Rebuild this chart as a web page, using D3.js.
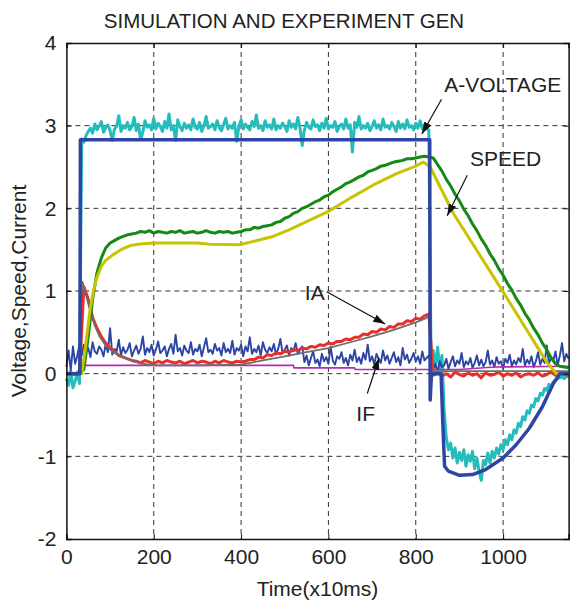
<!DOCTYPE html>
<html>
<head>
<meta charset="utf-8">
<script src="https://cdn.jsdelivr.net/npm/d3@7"></script>
<style>
  body { margin: 0; background: #fff; }
  svg text { font-family: "Liberation Sans", Arial, sans-serif; fill: #222; }
</style>
</head>
<body>
<div id="chart"></div>
<script>
// ---- data ----
var xTicks = [0, 200, 400, 600, 800, 1000];
var yTicks = [-2, -1, 0, 1, 2, 3, 4];

// measured signals are sampled on a fixed time grid
var stepFine = 5;    // x10ms, for armature voltage and field current
var stepCoarse = 10; // x10ms, for armature current and speed

// measured armature voltage (cyan), t = 0..1150 step 5
var voltMeas = [
  -0.06, -0.14, 0.03, -0.17, -0.09, 0.02, -0.12,
  2.84,
  2.80, 2.88, 2.93, 2.97, 2.91, 3.02, 2.95, 2.99, 3.05, 2.92,
  2.98, 3.01, 2.94, 2.82, 2.96, 2.99, 3.12, 2.93, 3.00, 2.97,
  3.04, 2.95, 2.99, 3.10, 2.94, 3.02, 2.83, 2.92, 3.06, 2.98,
  3.01, 2.95, 3.09, 2.96, 3.03, 2.99, 2.93, 3.05, 2.97, 3.14,
  2.95, 3.00, 2.82, 3.07, 2.99, 2.94, 3.03, 2.97, 3.01, 2.95,
  3.08, 2.98, 2.96, 3.04, 2.93, 3.00, 3.11, 2.97, 2.99, 3.02,
  2.95, 3.06, 2.98, 2.94, 3.01, 3.09, 2.96, 3.00, 2.97, 3.04,
  2.81, 2.99, 3.07, 2.96, 3.02, 2.98, 2.95, 3.05, 2.99, 3.13,
  2.97, 3.00, 2.94, 3.06, 2.98, 3.01, 2.96, 3.08, 2.95, 3.00,
  2.97, 3.03, 2.99, 2.93, 3.06, 2.98, 3.02, 2.96, 3.10, 2.97,
  2.76, 2.95, 3.04, 2.98, 2.96, 3.07, 2.99, 3.01, 2.94, 3.03,
  2.97, 3.09, 2.96, 3.00, 2.98, 3.05, 2.93, 2.99, 3.02, 2.96,
  3.08, 2.97, 3.01, 2.68, 3.04, 2.98, 3.11, 2.96, 3.00, 2.97,
  3.03, 2.94, 2.99, 3.06, 2.97, 3.01, 2.95, 3.08, 2.98, 3.00,
  2.96, 3.04, 2.99, 2.93, 3.05, 2.97, 3.02, 2.96, 3.07, 2.98,
  3.00, 2.95, 3.03, 2.97, 3.06, 2.96, 3.01, 2.98, 2.94,
  0.18, 0.28, 0.08, 0.32, 0.06, 0.22,
  -0.45, -0.78, -0.92, -0.84, -1.02, -0.90, -1.08, -0.95, -1.05, -0.92,
  -1.12, -0.98, -1.06, -0.94, -1.15, -1.02, -1.18, -1.29, -1.05, -1.10,
  -0.96, -1.08, -0.94, -1.02, -0.90, -0.97, -0.86, -0.92, -0.80, -0.86,
  -0.74, -0.80, -0.68, -0.72, -0.60, -0.64, -0.52, -0.56, -0.45, -0.48,
  -0.38, -0.40, -0.30, -0.33, -0.24, -0.26, -0.18, -0.20, -0.13, -0.15,
  -0.10, -0.08, -0.06, -0.05, -0.04, -0.06, -0.03, -0.04
];

// measured field current (thin blue), t = 0..1150 step 5
var ifMeas = [
  0.08, 0.28, 0.04, 0.33, 0.12, 0.22, 0.36,
  0.22, 0.35, 0.26, 0.31, 0.20, 0.38, 0.27, 0.24, 0.33, 0.29,
  0.21, 0.36, 0.26, 0.55, 0.23, 0.30, 0.27, 0.41, 0.22, 0.32,
  0.25, 0.29, 0.37, 0.21, 0.28, 0.34, 0.24, 0.30, 0.45, 0.23,
  0.31, 0.26, 0.35, 0.22, 0.29, 0.39, 0.25, 0.28, 0.33, 0.21,
  0.30, 0.36, 0.24, 0.47, 0.27, 0.31, 0.22, 0.34, 0.28, 0.25,
  0.38, 0.23, 0.30, 0.27, 0.35, 0.21, 0.32, 0.43, 0.26, 0.29,
  0.24, 0.36, 0.28, 0.31, 0.22, 0.37, 0.26, 0.30, 0.25, 0.40,
  0.23, 0.31, 0.28, 0.35, 0.21, 0.33, 0.27, 0.44, 0.24, 0.30,
  0.26, 0.34, 0.22, 0.38, 0.29, 0.25, 0.32, 0.27, 0.36, 0.23,
  0.30, 0.42, 0.25, 0.29, 0.34, 0.22, 0.31, 0.27, 0.37, 0.24,
  0.29, 0.33,
  0.14, 0.22, 0.10, 0.19, 0.27, 0.13, 0.17, 0.09, 0.24, 0.15,
  0.20, 0.12, 0.33, 0.16, 0.11, 0.21, 0.18, 0.26, 0.13, 0.19,
  0.10, 0.23, 0.16, 0.29, 0.14, 0.20, 0.12, 0.25, 0.17, 0.35,
  0.15, 0.21, 0.11, 0.24, 0.18, 0.13, 0.28, 0.16, 0.22, 0.12,
  0.19, 0.26, 0.14, 0.20, 0.10, 0.31, 0.17, 0.23, 0.13, 0.18,
  0.25, 0.15, 0.21, 0.12, 0.27, 0.16, 0.19, 0.22,
  0.10, 0.05, 0.12, 0.02, 0.15, 0.08,
  0.10, 0.18, 0.06, 0.14, 0.21, 0.09, 0.16, 0.12, 0.25, 0.08,
  0.15, 0.11, 0.19, 0.07, 0.13, 0.22, 0.10, 0.17, 0.09, 0.14,
  0.28, 0.11, 0.16, 0.08, 0.20, 0.12, 0.15, 0.06, 0.18, 0.13,
  0.23, 0.09, 0.16, 0.11, 0.19, 0.14, 0.30, 0.10, 0.17, 0.12,
  0.21, 0.08, 0.15, 0.26, 0.11, 0.18, 0.13, 0.34, 0.12, 0.20,
  0.16, 0.27, 0.10, 0.22, 0.37, 0.15, 0.24, 0.18
];

// measured armature current (red), t = 0..1150 step 10
var iaMeas = [
  0.00, 0.01, -0.01, 0.00,
  1.05, 0.90, 0.68, 0.55, 0.45, 0.37, 0.31, 0.27, 0.22, 0.20, 0.18, 0.16,
  0.15, 0.13, 0.16, 0.14, 0.12, 0.15, 0.13, 0.16, 0.14, 0.13,
  0.15, 0.12, 0.14, 0.16, 0.13, 0.15, 0.14, 0.12, 0.15, 0.13,
  0.16, 0.14, 0.13, 0.15, 0.14,
  0.15, 0.17, 0.17, 0.20, 0.19, 0.23, 0.22, 0.25, 0.24, 0.27,
  0.26, 0.29, 0.28, 0.31, 0.30, 0.33, 0.32, 0.35, 0.34, 0.37,
  0.36, 0.39, 0.39, 0.42, 0.41, 0.44, 0.44, 0.48, 0.47, 0.51,
  0.50, 0.54, 0.53, 0.57, 0.56, 0.60, 0.60, 0.64, 0.63, 0.67,
  0.66, 0.70, 0.72,
  -0.02, 0.01, -0.03, 0.00, -0.04, 0.02, -0.01, -0.03, 0.01, -0.02,
  0.00, -0.05, 0.01, -0.02, -0.01, 0.02, -0.03, 0.00, -0.02, 0.01,
  -0.04, -0.01, 0.00, -0.02, 0.01, -0.03, -0.01, 0.02, -0.02, 0.00,
  -0.01, -0.02
];

// measured speed (green), t = 0..1150 step 10
var speedMeas = [
  0.00, 0.00, 0.00, 0.01,
  0.05, 0.45, 0.90, 1.22, 1.40, 1.52, 1.58, 1.61, 1.64, 1.66, 1.68, 1.69,
  1.70, 1.72, 1.71, 1.73, 1.70, 1.72, 1.71, 1.70, 1.72, 1.71,
  1.73, 1.70, 1.71, 1.72, 1.70, 1.71, 1.73, 1.71, 1.70, 1.72,
  1.71, 1.72, 1.70, 1.71,
  1.72, 1.74, 1.74, 1.77, 1.76, 1.78, 1.79, 1.80, 1.83, 1.84,
  1.88, 1.90, 1.94, 1.96, 2.00, 2.02, 2.05, 2.08, 2.10, 2.14,
  2.16, 2.20, 2.23, 2.26, 2.30, 2.32, 2.35, 2.38, 2.40, 2.44,
  2.46, 2.48, 2.51, 2.52, 2.54, 2.56, 2.57, 2.58, 2.60, 2.60,
  2.61, 2.62, 2.63, 2.62,
  2.61, 2.53, 2.45, 2.35, 2.27, 2.17, 2.09, 1.99, 1.91, 1.81,
  1.73, 1.63, 1.55, 1.45, 1.37, 1.27, 1.19, 1.09, 1.01, 0.91,
  0.83, 0.73, 0.65, 0.55, 0.47, 0.37, 0.29, 0.19, 0.12, 0.09,
  0.08, 0.07
];

// simulated armature voltage (dark blue) as [time, value]
var voltSim = [
  [0, 0], [31, 0], [32, 2.83], [832, 2.83], [833, -0.32], [836, 0.0],
  [858, 0.0], [862, -0.6], [866, -1.12], [875, -1.18], [900, -1.23],
  [930, -1.22], [960, -1.16], [1000, -1.02], [1030, -0.86], [1060, -0.66],
  [1090, -0.40], [1115, -0.12], [1130, 0], [1150, 0]
];

// simulated speed (yellow)
var speedSim = [
  [0, 0], [35, 0], [42, 0.25], [54, 0.77], [62, 1.0], [69, 1.15], [80, 1.3],
  [90, 1.37], [107, 1.44], [125, 1.5], [146, 1.55], [170, 1.57], [198, 1.58],
  [300, 1.58], [329, 1.565], [397, 1.56], [443, 1.62], [473, 1.66],
  [510, 1.74], [550, 1.84], [599, 1.96], [649, 2.12], [702, 2.28],
  [756, 2.42], [800, 2.51], [817, 2.56], [833, 2.5], [886, 1.94],
  [1000, 0.99], [1100, 0.14], [1122, 0.0], [1150, 0.0]
];

// simulated armature current (gray)
var iaSim = [
  [0, 0], [31, 0], [33, 0.9], [37, 1.11], [45, 0.95], [54, 0.77], [65, 0.58],
  [77, 0.44], [90, 0.34], [107, 0.26], [130, 0.2], [153, 0.15], [175, 0.12],
  [200, 0.1], [300, 0.1], [400, 0.11], [450, 0.16], [500, 0.21], [550, 0.26],
  [600, 0.31], [650, 0.38], [700, 0.45], [750, 0.53], [800, 0.62], [832, 0.69],
  [833, 0.03], [1150, 0.03]
];

// simulated field current (magenta)
var ifSim = [
  [0, 0], [34, 0], [35, 0.1], [520, 0.1], [521, 0.07], [660, 0.07],
  [661, 0.05], [833, 0.05], [900, 0.05], [980, 0.08], [1150, 0.09]
];

// annotations: label, text anchor point, arrow tail, arrow tip (data units)
var labels = [
  { text: "A-VOLTAGE", at: [865, 3.41], from: [859, 3.32], to: [814, 2.90] },
  { text: "SPEED",     at: [924, 2.51], from: [918, 2.40], to: [872, 1.91] },
  { text: "IA",        at: [546, 0.89], from: [596, 0.99], to: [730, 0.60] },
  { text: "IF",        at: [664, -0.57], from: [689, -0.24], to: [716, 0.19] }
];

// ---- layout ----
var width = 582, height = 606;
var plotLeft = 66.4, plotRight = 568.6, plotTop = 43, plotBottom = 539;

var svg = d3.select("#chart").append("svg")
  .attr("width", width)
  .attr("height", height);

var x = d3.scaleLinear().domain([0, 1150]).range([plotLeft, plotRight]);
var y = d3.scaleLinear().domain([-2, 4]).range([plotBottom, plotTop]);

// turn a regularly sampled array into [t, v] pairs
function sampled(values, step) {
  return values.map(function (v, i) { return [i * step, v]; });
}

var line = d3.line()
  .x(function (d) { return x(d[0]); })
  .y(function (d) { return y(d[1]); });

// grid (dashed)
var grid = svg.append("g").attr("class", "grid");
grid.selectAll("line.gx")
  .data(xTicks.filter(function (t) { return t > 0; }))
  .enter().append("line")
  .attr("class", "gx")
  .attr("x1", function (d) { return x(d); })
  .attr("x2", function (d) { return x(d); })
  .attr("y1", plotTop).attr("y2", plotBottom);
grid.selectAll("line.gy")
  .data(yTicks.filter(function (t) { return t > -2 && t < 4; }))
  .enter().append("line")
  .attr("class", "gy")
  .attr("x1", plotLeft).attr("x2", plotRight)
  .attr("y1", function (d) { return y(d); })
  .attr("y2", function (d) { return y(d); });
grid.selectAll("line")
  .attr("stroke", "#333")
  .attr("stroke-width", 1)
  .attr("stroke-dasharray", "5,4");

// series, back to front
var plot = svg.append("g")
  .attr("fill", "none")
  .attr("stroke-linejoin", "round");

plot.append("path").datum(sampled(voltMeas, stepFine))
  .attr("d", line).attr("stroke", "#25bcbc").attr("stroke-width", 3);
plot.append("path").datum(sampled(ifMeas, stepFine))
  .attr("d", line).attr("stroke", "#2c44a4").attr("stroke-width", 1.9);
plot.append("path").datum(ifSim)
  .attr("d", line).attr("stroke", "#b02cb0").attr("stroke-width", 1.6);
plot.append("path").datum(sampled(iaMeas, stepCoarse))
  .attr("d", line).attr("stroke", "#e4312a").attr("stroke-width", 3);
plot.append("path").datum(iaSim)
  .attr("d", line).attr("stroke", "#6e6e6e").attr("stroke-width", 1.8);
plot.append("path").datum(sampled(speedMeas, stepCoarse))
  .attr("d", line).attr("stroke", "#148a14").attr("stroke-width", 3);
plot.append("path").datum(speedSim)
  .attr("d", line).attr("stroke", "#c8c400").attr("stroke-width", 3);
plot.append("path").datum(voltSim)
  .attr("d", line).attr("stroke", "#2f45a3").attr("stroke-width", 3.5);

// axes: box with inward ticks on all sides
var fmt = function (d) { return String(d); };
var axes = svg.append("g");
axes.append("g")
  .attr("transform", "translate(0," + plotBottom + ")")
  .call(d3.axisBottom(x).tickValues(xTicks).tickSize(-5).tickPadding(10).tickFormat(fmt));
axes.append("g")
  .attr("transform", "translate(" + plotLeft + ",0)")
  .call(d3.axisLeft(y).tickValues(yTicks).tickSize(-5).tickPadding(10).tickFormat(fmt));
axes.append("g")
  .attr("transform", "translate(0," + plotTop + ")")
  .call(d3.axisTop(x).tickValues(xTicks).tickSize(-5).tickFormat(""));
axes.append("g")
  .attr("transform", "translate(" + plotRight + ",0)")
  .call(d3.axisRight(y).tickValues(yTicks).tickSize(-5).tickFormat(""));
axes.selectAll(".domain").attr("stroke", "#111").attr("stroke-width", 1.5);
axes.selectAll(".tick line").attr("stroke", "#111");
axes.selectAll(".tick text")
  .attr("font-size", 21)
  .attr("font-family", "Liberation Sans, Arial, sans-serif")
  .attr("fill", "#222");

// title and axis titles
svg.append("text")
  .attr("x", 284).attr("y", 28)
  .attr("text-anchor", "middle")
  .attr("font-size", 20.5)
  .text("SIMULATION AND EXPERIMENT GEN");

svg.append("text")
  .attr("x", (plotLeft + plotRight) / 2).attr("y", 596)
  .attr("text-anchor", "middle")
  .attr("font-size", 21)
  .text("Time(x10ms)");

svg.append("text")
  .attr("transform", "translate(26," + ((plotTop + plotBottom) / 2) + ") rotate(-90)")
  .attr("text-anchor", "middle")
  .attr("font-size", 21)
  .text("Voltage,Speed,Current");

// annotation arrows
svg.append("defs").append("marker")
  .attr("id", "head")
  .attr("viewBox", "0 -4 12 8")
  .attr("refX", 12).attr("refY", 0)
  .attr("markerUnits", "userSpaceOnUse")
  .attr("markerWidth", 12).attr("markerHeight", 8)
  .attr("orient", "auto")
  .append("path")
  .attr("d", "M0,-4L12,0L0,4Z")
  .attr("fill", "#111");

var notes = svg.append("g");
notes.selectAll("line")
  .data(labels)
  .enter().append("line")
  .attr("x1", function (d) { return x(d.from[0]); })
  .attr("y1", function (d) { return y(d.from[1]); })
  .attr("x2", function (d) { return x(d.to[0]); })
  .attr("y2", function (d) { return y(d.to[1]); })
  .attr("stroke", "#111")
  .attr("stroke-width", 1.2)
  .attr("marker-end", "url(#head)");
notes.selectAll("text")
  .data(labels)
  .enter().append("text")
  .attr("x", function (d) { return x(d.at[0]); })
  .attr("y", function (d) { return y(d.at[1]); })
  .attr("font-size", 21)
  .text(function (d) { return d.text; });
</script>
</body>
</html>
